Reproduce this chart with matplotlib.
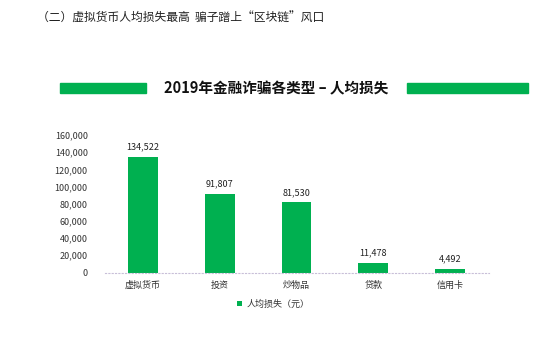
import matplotlib
matplotlib.use("Agg")
import matplotlib.pyplot as plt
from matplotlib.patches import Rectangle
from matplotlib.ticker import FuncFormatter

plt.rcParams['font.family'] = ['Noto Sans CJK SC', 'DejaVu Sans']

categories = ["虚拟货币", "投资", "炒物品", "贷款", "信用卡"]
values = [134522, 91807, 81530, 11478, 4492]
yticks = [0, 20000, 40000, 60000, 80000, 100000, 120000, 140000, 160000]
green = "#00B050"

W, H = 554, 353
fig = plt.figure(figsize=(W / 100, H / 100), dpi=100)
fig.patch.set_facecolor("white")

ax = fig.add_axes([104.5 / W, 1 - 272.5 / H, 384 / W, 137.5 / H])
x = list(range(len(categories)))
bars = ax.bar(x, values, width=0.39, color=green, label="人均损失（元）")
ax.set_xlim(-0.5, len(categories) - 0.5)
ax.set_ylim(0, 160000)
ax.set_yticks(yticks)
ax.yaxis.set_major_formatter(FuncFormatter(lambda v, p: f"{int(v):,}"))
ax.set_xticks(x)
ax.set_xticklabels(categories)
ax.tick_params(axis='both', length=0, labelsize=6.5, colors="#333333")
ax.tick_params(axis='x', pad=6)
ax.tick_params(axis='y', pad=12)
for s in ["top", "right", "left"]:
    ax.spines[s].set_visible(False)
ax.spines["bottom"].set_color("#c8bfd8")
ax.spines["bottom"].set_linestyle((0, (1, 2)))
ax.spines["bottom"].set_linewidth(0.8)

for b, v in zip(bars, values):
    ax.annotate(f"{v:,}", (b.get_x() + b.get_width() / 2, v), xytext=(0, 4),
                textcoords="offset points", ha="center", va="bottom",
                fontsize=6.5, color="#222222")

ax.legend(loc="upper center", bbox_to_anchor=(0.44, -0.14), frameon=False,
          fontsize=6.5, handlelength=0.5, handleheight=0.5, handletextpad=0.5,
          labelcolor="#333333")

# header
fig.text(37 / W, 1 - 18 / H, "（二）虚拟货币人均损失最高  骗子蹭上“区块链”风口",
         fontsize=8.5, va="center", ha="left", color="#222222")

# title and decorative bars
fig.text(276 / W, 1 - 88 / H, "2019年金融诈骗各类型 – 人均损失", fontsize=10.5,
         fontweight="bold", va="center", ha="center", color="#111111")
fig.patches.append(Rectangle((60 / W, 1 - 93 / H), 86 / W, 10 / H,
                             transform=fig.transFigure, color=green))
fig.patches.append(Rectangle((407 / W, 1 - 93 / H), 121 / W, 10 / H,
                             transform=fig.transFigure, color=green))

fig.savefig("out.png", dpi=100)
